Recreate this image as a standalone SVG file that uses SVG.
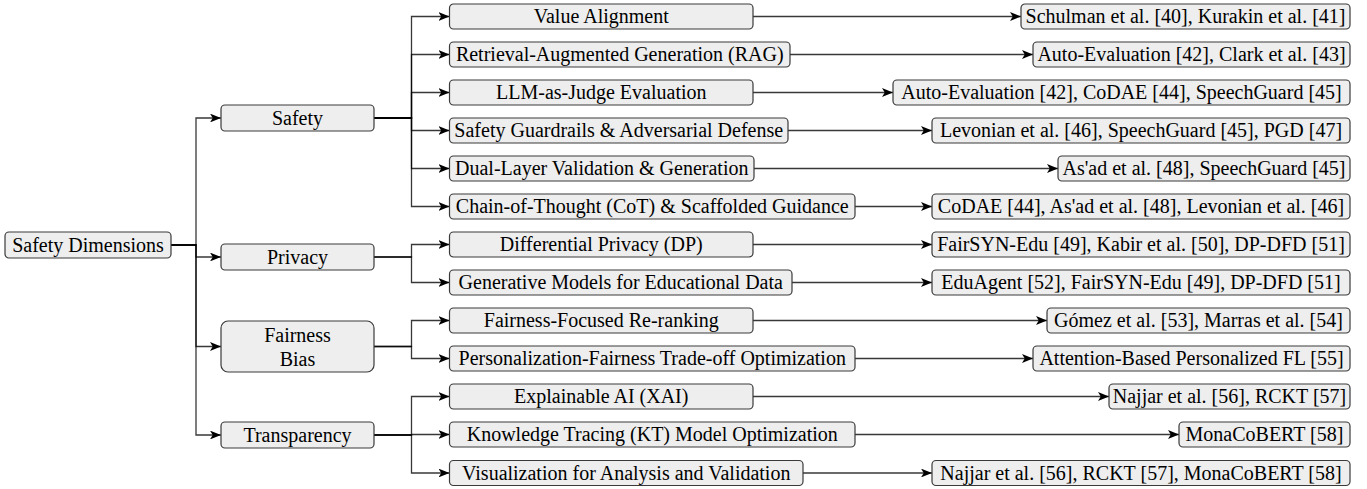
<svg xmlns="http://www.w3.org/2000/svg" width="1367" height="489" viewBox="0 0 1367 489">
<defs>
<style>
.box{fill:#eeeeee;stroke:#3a3a3a;stroke-width:1.2}
.e{fill:none;stroke:#000;stroke-opacity:0.78;stroke-width:1.3;marker-end:url(#arr)}
text{font-family:"Times New Roman","Liberation Serif",serif;font-size:20px;text-anchor:middle;fill:#000}
</style>
<marker id="arr" viewBox="0 0 10 8" refX="10" refY="4" markerWidth="11" markerHeight="8.8" markerUnits="userSpaceOnUse" orient="auto">
<path d="M0,0 L10,4 L0,8 L2.5,4 Z" fill="#000"/>
</marker>
</defs>
<rect width="1367" height="489" fill="#ffffff"/>
<g id="connectors">
<path class="e" d="M171,245 H196 V118 H221"/>
<path class="e" d="M171,245 H196 V257 H221"/>
<path class="e" d="M171,245 H196 V346.5 H221"/>
<path class="e" d="M171,245 H196 V435 H221"/>
<path class="e" d="M374,118 H411.5 V16.5 H449.5"/>
<path class="e" d="M374,118 H411.5 V54.5 H449.5"/>
<path class="e" d="M374,118 H411.5 V92.5 H449.5"/>
<path class="e" d="M374,118 H411.5 V130.5 H449.5"/>
<path class="e" d="M374,118 H411.5 V168.5 H449.5"/>
<path class="e" d="M374,118 H411.5 V206.5 H449.5"/>
<path class="e" d="M374,257 H411.5 V244.5 H449.5"/>
<path class="e" d="M374,257 H411.5 V282.5 H449.5"/>
<path class="e" d="M374,346.5 H411.5 V320.5 H449.5"/>
<path class="e" d="M374,346.5 H411.5 V358.5 H449.5"/>
<path class="e" d="M374,435 H411.5 V396.5 H449.5"/>
<path class="e" d="M374,435 H411.5 V434.5 H449.5"/>
<path class="e" d="M374,435 H411.5 V473 H449.5"/>
<path class="e" d="M753,16.5 H1021"/>
<path class="e" d="M790,54.5 H1033"/>
<path class="e" d="M753,92.5 H893"/>
<path class="e" d="M788,130.5 H932"/>
<path class="e" d="M754,168.5 H1058"/>
<path class="e" d="M855,206.5 H932"/>
<path class="e" d="M753,244.5 H932"/>
<path class="e" d="M792,282.5 H932"/>
<path class="e" d="M753,320.5 H1047"/>
<path class="e" d="M855,358.5 H1033"/>
<path class="e" d="M753,396.5 H1109"/>
<path class="e" d="M855,434.5 H1179"/>
<path class="e" d="M803,473 H932"/>
</g>
<g id="root"><rect class="box" x="5" y="232" width="166" height="26" rx="4"/><text x="88" y="251.7">Safety Dimensions</text></g>
<g id="safety"><rect class="box" x="221" y="105" width="153" height="26" rx="4"/><text x="297.5" y="124.7">Safety</text></g>
<g id="privacy"><rect class="box" x="221" y="244" width="153" height="26" rx="4"/><text x="297.5" y="263.7">Privacy</text></g>
<g id="fairness"><rect class="box" x="221" y="321" width="153" height="51" rx="7"/><text x="297.5" y="342">Fairness</text><text x="297.5" y="366">Bias</text></g>
<g id="transparency"><rect class="box" x="221" y="422" width="153" height="26" rx="4"/><text x="297.5" y="441.7">Transparency</text></g>

<g id="value-alignment"><rect class="box" x="449.5" y="4" width="303.5" height="25" rx="4"/><text x="601.25" y="23.2">Value Alignment</text></g>
<g id="rag"><rect class="box" x="449.5" y="42" width="340.5" height="25" rx="4"/><text x="619.75" y="61.2">Retrieval-Augmented Generation (RAG)</text></g>
<g id="llm-judge"><rect class="box" x="449.5" y="80" width="303.5" height="25" rx="4"/><text x="601.25" y="99.2">LLM-as-Judge Evaluation</text></g>
<g id="guardrails"><rect class="box" x="449.5" y="118" width="338.5" height="25" rx="4"/><text x="618.75" y="137.2">Safety Guardrails &amp; Adversarial Defense</text></g>
<g id="dual-layer"><rect class="box" x="449.5" y="156" width="304.5" height="25" rx="4"/><text x="601.75" y="175.2">Dual-Layer Validation &amp; Generation</text></g>
<g id="cot"><rect class="box" x="449.5" y="194" width="405.5" height="25" rx="4"/><text x="652.25" y="213.2">Chain-of-Thought (CoT) &amp; Scaffolded Guidance</text></g>
<g id="dp"><rect class="box" x="449.5" y="232" width="303.5" height="25" rx="4"/><text x="601.25" y="251.2">Differential Privacy (DP)</text></g>
<g id="generative"><rect class="box" x="449.5" y="270" width="342.5" height="25" rx="4"/><text x="620.75" y="289.2">Generative Models for Educational Data</text></g>
<g id="rerank"><rect class="box" x="449.5" y="308" width="303.5" height="25" rx="4"/><text x="601.25" y="327.2">Fairness-Focused Re-ranking</text></g>
<g id="tradeoff"><rect class="box" x="449.5" y="346" width="405.5" height="25" rx="4"/><text x="652.25" y="365.2">Personalization-Fairness Trade-off Optimization</text></g>
<g id="xai"><rect class="box" x="449.5" y="384" width="303.5" height="25" rx="4"/><text x="601.25" y="403.2">Explainable AI (XAI)</text></g>
<g id="kt"><rect class="box" x="449.5" y="422" width="405.5" height="25" rx="4"/><text x="652.25" y="441.2">Knowledge Tracing (KT) Model Optimization</text></g>
<g id="visualization"><rect class="box" x="449.5" y="460.5" width="353.5" height="25" rx="4"/><text x="626.25" y="479.7">Visualization for Analysis and Validation</text></g>

<g id="ref-value"><rect class="box" x="1021" y="4" width="329" height="25" rx="4"/><text x="1185.5" y="23.2">Schulman et al. [40], Kurakin et al. [41]</text></g>
<g id="ref-rag"><rect class="box" x="1033" y="42" width="317" height="25" rx="4"/><text x="1191.5" y="61.2">Auto-Evaluation [42], Clark et al. [43]</text></g>
<g id="ref-llm"><rect class="box" x="893" y="80" width="457" height="25" rx="4"/><text x="1121.5" y="99.2">Auto-Evaluation [42], CoDAE [44], SpeechGuard [45]</text></g>
<g id="ref-guard"><rect class="box" x="932" y="118" width="418" height="25" rx="4"/><text x="1141" y="137.2">Levonian et al. [46], SpeechGuard [45], PGD [47]</text></g>
<g id="ref-dual"><rect class="box" x="1058" y="156" width="292" height="25" rx="4"/><text x="1204" y="175.2">As'ad et al. [48], SpeechGuard [45]</text></g>
<g id="ref-cot"><rect class="box" x="932" y="194" width="418" height="25" rx="4"/><text x="1141" y="213.2">CoDAE [44], As'ad et al. [48], Levonian et al. [46]</text></g>
<g id="ref-dp"><rect class="box" x="932" y="232" width="418" height="25" rx="4"/><text x="1141" y="251.2">FairSYN-Edu [49], Kabir et al. [50], DP-DFD [51]</text></g>
<g id="ref-gen"><rect class="box" x="932" y="270" width="418" height="25" rx="4"/><text x="1141" y="289.2">EduAgent [52], FairSYN-Edu [49], DP-DFD [51]</text></g>
<g id="ref-rerank"><rect class="box" x="1047" y="308" width="303" height="25" rx="4"/><text x="1198.5" y="327.2">Gómez et al. [53], Marras et al. [54]</text></g>
<g id="ref-tradeoff"><rect class="box" x="1033" y="346" width="317" height="25" rx="4"/><text x="1191.5" y="365.2">Attention-Based Personalized FL [55]</text></g>
<g id="ref-xai"><rect class="box" x="1109" y="384" width="241" height="25" rx="4"/><text x="1229.5" y="403.2">Najjar et al. [56], RCKT [57]</text></g>
<g id="ref-kt"><rect class="box" x="1179" y="422" width="171" height="25" rx="4"/><text x="1264.5" y="441.2">MonaCoBERT [58]</text></g>
<g id="ref-vis"><rect class="box" x="932" y="460.5" width="418" height="25" rx="4"/><text x="1141" y="479.7">Najjar et al. [56], RCKT [57], MonaCoBERT [58]</text></g>
</svg>
